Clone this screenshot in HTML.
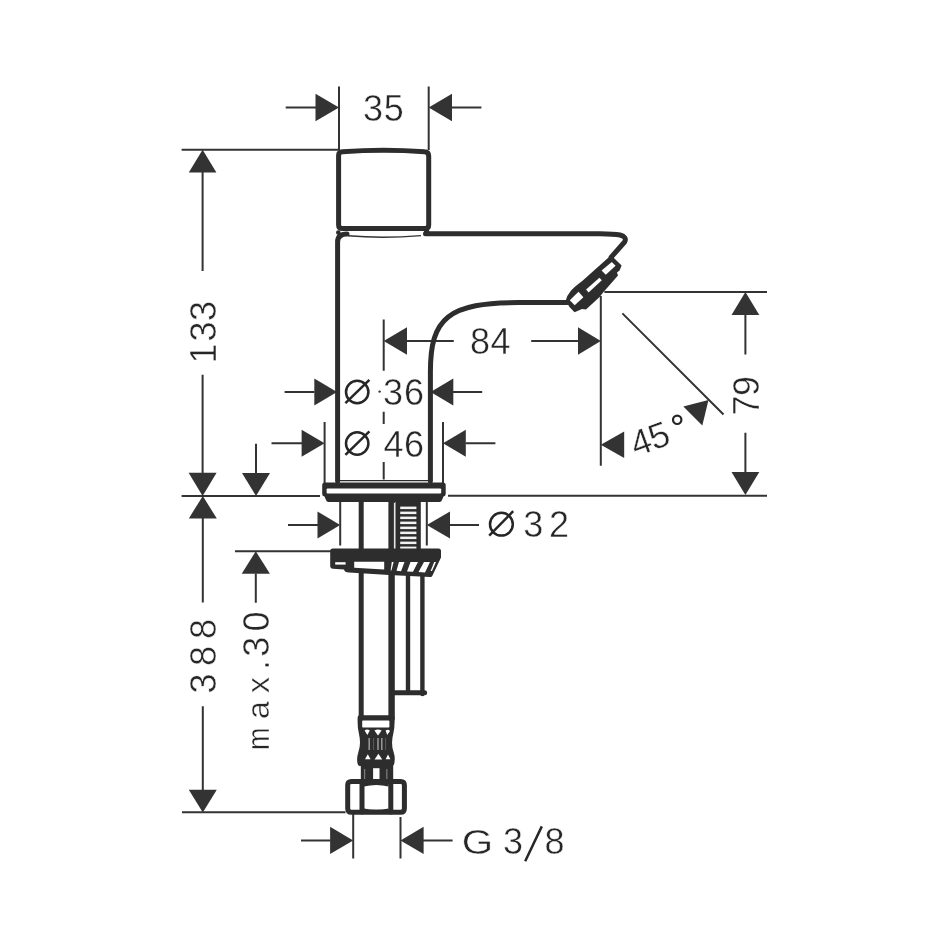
<!DOCTYPE html>
<html><head><meta charset="utf-8"><title>Dimension drawing</title>
<style>
html,body{margin:0;padding:0;background:#fff;}
svg{display:block;will-change:transform;}
text{font-family:"Liberation Sans",sans-serif;font-size:36px;fill:#262626;stroke:#fff;stroke-width:0.45px;}
.t{stroke:#333;stroke-width:2;fill:none;stroke-linecap:butt;}
.k{stroke:#2d2d2d;stroke-width:5;fill:none;stroke-linecap:round;stroke-linejoin:round;}
.a{fill:#333;stroke:none;}
.d{fill:#2d2d2d;stroke:none;}
.w{fill:#fff;stroke:none;}
</style></head>
<body>
<svg width="950" height="950" viewBox="0 0 950 950">
<rect width="950" height="950" fill="#fff"/>

<!-- ===== thin dimension lines ===== -->
<g class="t">
<!-- 35 -->
<path d="M339 86.5V150M428.7 86.5V150M285.7 107.5H316M452 107.5H481.4"/>
<!-- top horizontal -->
<path d="M181.6 149.8H339"/>
<!-- 133 -->
<path d="M202.6 172V271M202.6 374.7V473"/>
<!-- base horizontal -->
<path d="M181.6 496H320M448 495.7H767"/>
<!-- 388 -->
<path d="M202.8 518V602.5M202.8 706.3V790"/>
<path d="M182 812.2H345.5"/>
<!-- max.30 -->
<path d="M256 443.7V473.5M255.8 573.5V602.8M235 551.2H331"/>
<!-- 84 + centre line -->
<path d="M383.7 319.6V370.7M383.7 411.8V424M383.7 461.9V479.5M407 341H453.8M531.2 341H578"/>
<!-- spout vertical ref / 79 -->
<path d="M600.8 296V465.7M604.4 292H767M622.4 313.4L723.5 414.5"/>
<path d="M745.4 314.5V354.6M745.4 432.8V472.5"/>
<!-- dia 36 -->
<path d="M284.6 392H314.5M453 392H482.2"/>
<!-- dia 46 -->
<path d="M324.6 422V483M443 422V483M271.5 443.3H302M465.5 443.3H495.4"/>
<!-- dia 32 -->
<path d="M340.2 502V545.6M426.8 502V545.6M288 525H318M449.5 525H479"/>
<!-- G 3/8 -->
<path d="M353.2 814V858.4M400.5 817V858.4M301 840.4H330.5M423 840.4H452.6"/>
</g>
<circle cx="379.6" cy="391.6" r="1.2" fill="#333"/>

<!-- arrows -->
<g class="a">
<path d="M339 107.5L315.5 93.7V121.3Z"/>
<path d="M428.7 107.5L452 93.7V121.3Z"/>
<path d="M202.6 149.8L188.8 172.4H216.4Z"/>
<path d="M202.6 496L188.6 472.7H216.6Z"/>
<path d="M202.8 496L188.8 518.5H216.8Z"/>
<path d="M202.8 812.4L188.8 789.7H216.8Z"/>
<path d="M256 496L242 472.9H270Z"/>
<path d="M255.8 551.2L241.7 573.8H269.9Z"/>
<path d="M383.7 341L407 327.3V354.7Z"/>
<path d="M600.8 341L578 327.3V354.7Z"/>
<path d="M745.4 292L731.5 315H759.3Z"/>
<path d="M745.4 495L731.5 472H759.3Z"/>
<path d="M600.8 444.7L624.2 431.5V458Z"/>
<path d="M683.3 406.5L708.5 400L702.3 425.4Z"/>
<path d="M337 392L314.3 378.5V405.5Z"/>
<path d="M430.6 392L453.3 378.5V405.5Z"/>
<path d="M324.6 443.3L301.6 429.8V456.8Z"/>
<path d="M443 443.3L465.8 429.8V456.8Z"/>
<path d="M340.2 525L317.5 511.5V538.5Z"/>
<path d="M426.8 525L450 511.5V538.5Z"/>
<path d="M353.2 840.4L330.1 826.7V854.1Z"/>
<path d="M400.5 840.4L423.6 826.7V854.1Z"/>
</g>

<!-- ===== faucet body ===== -->
<g class="k">
<!-- cap -->
<path d="M338.6 155.5Q338.6 152 342.5 151.8Q383.5 148.8 424.5 151.8Q428.7 152 428.7 156V225Q428.7 228.6 425 228.6H342.5Q338.6 228.6 338.6 225Z"/>
<!-- body left + top-left corner -->
<path d="M347 234Q337.6 234 337.6 242V481"/>
<!-- spout top, tip, diagonal to aerator, underside -->
<path d="M425.5 233.8H600Q614 234 620 235Q627.4 237 624.6 242L611.2 257.2"/>
<path d="M567 302.6H520C448 302.3 430.4 318 430.4 372V481"/>
<path d="M567.2 302.4C569.5 293 575 289 583 282.9L610.4 258.6" stroke-width="4"/>
</g>
<path d="M348 235.8Q383 238.8 421 235.6" stroke="#333" stroke-width="1.4" fill="none"/>
<circle class="d" cx="426.6" cy="231.8" r="2.7"/><circle class="d" cx="338.3" cy="232.6" r="2.3"/>

<!-- aerator -->
<path class="d" d="M566.5 302L572 291.5L583 282.5L609.5 257.5L612.4 256.4L621.6 265.4L619.6 270.6L617 272.6L618 275.6L603.5 292L599.6 297L586 309.6L582 309L574.5 312.2L569.5 307Z"/>
<path class="w" d="M601.6 270.6L611.8 262L615.6 265.8L605.8 274.8Z"/>
<path class="w" d="M586.1 289.6L599.4 277.8L601.8 280.2L588.6 292.5Z"/>
<path class="w" d="M569.8 300.3L578.5 291.8L583.4 297.2L574.7 305.2Z"/>

<!-- flange -->
<path class="d" d="M325 482.5H443Q445.7 482.5 445.7 485V494Q445.7 496 443.5 496.5L442 500Q441.5 502 439.5 502H328.5Q326.5 502 326 500L324.5 496.5Q322.2 496 322.2 494V485Q322.2 482.5 325 482.5Z"/>
<rect class="w" x="326.6" y="488.6" width="114.6" height="4.8" rx="1"/>
<path d="M340 480.6H428" stroke="#2d2d2d" stroke-width="1.2"/>

<!-- pipes below flange -->
<g class="k" stroke-linecap="butt">
<path d="M361.2 502V718"/>
<path d="M391.6 502V718" stroke-width="6.4"/>
<path d="M408 576V692" stroke-width="4.4"/>
<path d="M422.4 576V694" stroke-width="4.4"/>
<path d="M393 692.8H424.6" stroke-linecap="round"/>
</g>
<!-- threaded rod -->
<rect class="d" x="395.4" y="501" width="25.4" height="49"/>
<rect x="393.9" y="503" width="1.2" height="46" fill="#e8e8e8"/>
<g fill="#f2f2f2">
<rect x="400.2" y="506.6" width="16.2" height="2.5"/>
<rect x="400.2" y="511.6" width="16.2" height="2.5"/>
<rect x="400.2" y="516.6" width="16.2" height="2.5"/>
<rect x="400.2" y="521.6" width="16.2" height="2.5"/>
<rect x="400.2" y="526.6" width="16.2" height="2.5"/>
<rect x="400.2" y="531.6" width="16.2" height="2.5"/>
<rect x="400.2" y="536.6" width="16.2" height="2.5"/>
<rect x="400.2" y="541.6" width="16.2" height="2.5"/>
<rect x="400.2" y="546.6" width="16.2" height="2.5"/>
</g>

<!-- mounting plate -->
<path class="d" d="M332.5 548.5H438.5Q441 548.5 441 551V557.5L432.5 575.5Q431.8 577.2 430 577L389 575L349 572.5Q344.5 572.3 344 569.5L333 568.8Q330.2 568.5 330.2 566V551Q330.2 548.5 332.5 548.5Z"/>
<rect class="w" x="335.2" y="562.2" width="10.4" height="2.4"/>
<path class="w" d="M354.2 561.8H384.2V569.6L354.2 567.8Z"/>
<path class="w" d="M391.8 562H393.6L391.4 570.5H390.6Z"/>
<path class="w" d="M399 562H404.5L401 571.2L396.5 570.8Z"/>
<path class="w" d="M410.5 562H418L413 571.8L407 571.4Z"/>
<path class="w" d="M424 562H430L425 572.4L418.5 572Z"/>
<path class="w" d="M434.2 562H436L432 571H430.6Z"/>

<!-- hose ferrule -->
<path class="d" d="M359.8 715.2H392.4Q394.6 715.2 394.6 717.5V722Q394.6 728 393.4 733Q390.6 744 393.6 752Q395.2 757 394.6 761Q394.4 766 392 766H360Q357.4 766 357.2 761Q356.8 757 358.4 752Q361.4 744 358.8 733Q357.6 728 357.6 722V717.5Q357.6 715.2 359.8 715.2Z"/>
<rect class="w" x="362.2" y="720.6" width="27.2" height="7" rx="0.8"/>
<path class="w" d="M364.6 730.6Q367.2 728.6 369.8 730.6L367.4 735Z"/>
<path class="w" d="M374.4 730.6Q378 728.2 381.6 730.6L378 735.4Z"/>
<path class="w" d="M385.6 730.6Q388 728.8 390 731L387.2 735Z"/>
<path class="w" d="M365 759.2L367.8 754.2L370.6 759.2Z"/>
<path class="w" d="M374.6 759.6L378.4 753.8L382.2 759.6Z"/>
<path class="w" d="M385.6 759.2L388 754.4L390.4 759.2Z"/>
<g stroke="#9a9a9a" stroke-width="1.5">
<path d="M369.2 738V750M378 738V750M381.8 738V750"/>
</g>
<g stroke="#5a5a5a" stroke-width="1"><path d="M373.6 738V750M385.6 738V750"/></g>
<!-- neck -->
<rect class="d" x="360.8" y="765" width="32.4" height="15"/>
<rect class="w" x="373.1" y="768.2" width="6.4" height="11.8"/>
<g stroke="#7a7a7a" stroke-width="1.3"><path d="M364.6 769V779.5M386.8 769V779.5"/></g>

<!-- hex nut -->
<path class="k" d="M351.5 781.4H400.5Q404.4 781.4 404.4 785V808.5Q404.4 812.3 400.5 812.3H351.5Q347.7 812.3 347.7 808.5V785Q347.7 781.4 351.5 781.4Z"/>
<path class="k" d="M362 782V812M390.8 782V812" stroke-width="4.4" stroke-linecap="butt"/>
<path class="d" d="M364 783.5H388.6V786.6Q376.3 783.6 364 786.6Z"/>
<path class="d" d="M364 810.5H388.6V808.4Q376.3 811 364 808.4Z"/>

<!-- ===== text ===== -->
<text x="363" y="121">3</text><text x="383.8" y="121">5</text>
<text x="470" y="354.3">8</text><text x="490.4" y="354.3">4</text>
<text x="383" y="404.8">3</text><text x="404" y="404.8">6</text>
<text x="383.4" y="456.6">4</text><text x="404" y="456.6">6</text>
<text x="523.2" y="536.9">3</text><text x="549" y="536.9">2</text>
<text transform="translate(461.8 854.4) scale(1.12 1)" x="0" y="0">G</text><text x="503" y="854.4">3</text><text x="544.6" y="854.4">8</text>
<path d="M525.2 861.2L541.8 826.4" stroke="#262626" stroke-width="2.5" fill="none"/>

<!-- diameter symbols -->
<g stroke="#262626" stroke-width="2.5" fill="none">
<circle cx="357.2" cy="392" r="11.2"/><path d="M345.4 403.2L369.4 379.8"/>
<circle cx="357.2" cy="443.5" r="11.2"/><path d="M345.4 454.8L369.4 431.4"/>
<circle cx="501.4" cy="524.2" r="11.4"/><path d="M489.2 535.6L513.2 511.2"/>
</g>

<!-- rotated texts -->
<g transform="translate(216 360.5) rotate(-90)"><text x="-3" y="0">1</text><text x="19" y="0">3</text><text x="39.6" y="0">3</text></g>
<g transform="translate(215.6 693.5) rotate(-90)"><text x="0" y="0">3</text><text x="27.5" y="0">8</text><text x="54.6" y="0">8</text></g>
<g transform="translate(269.4 750) rotate(-90)"><text transform="scale(.84 1)" x="0" y="0" style="font-size:32px">m</text><text x="31" y="0" style="font-size:32px">a</text><text x="57" y="0" style="font-size:32px">x</text><text x="80" y="0">.</text><text x="93.2" y="0">3</text><text x="118.6" y="0">0</text></g>
<g transform="translate(758.6 415.5) rotate(-90)"><text x="0" y="0">7</text><text x="19.5" y="0">9</text></g>
<g transform="translate(635.8 457) rotate(-20)"><text x="0" y="0">4</text><text x="19" y="0">5</text></g>
<circle cx="677.2" cy="419.8" r="4.2" stroke="#262626" stroke-width="2.2" fill="none"/>
</svg>
</body></html>
